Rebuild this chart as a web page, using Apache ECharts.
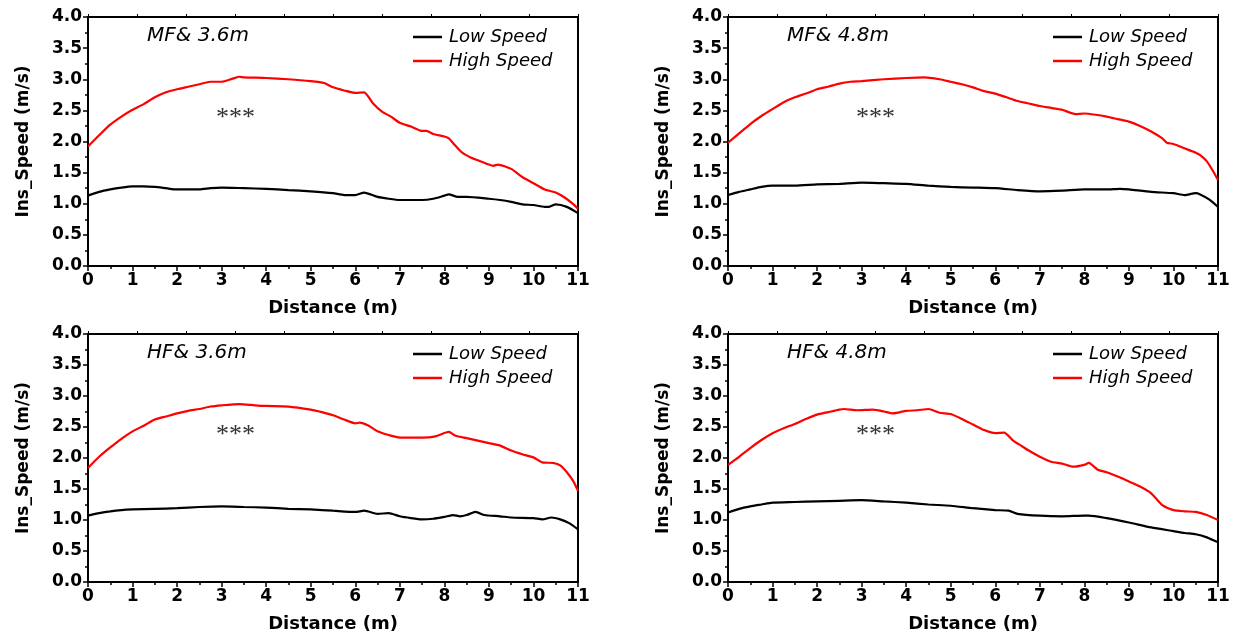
<!DOCTYPE html>
<html>
<head>
<meta charset="utf-8">
<script src="https://cdn.jsdelivr.net/npm/echarts@6/dist/echarts.min.js"></script>
<style>
html,body{margin:0;padding:0;background:#fff;}
#chart{width:1237px;height:639px;}
</style>
</head>
<body>
<div id="chart"></div>
<script>
// ---- data ----
const panelTitles = ['MF& 3.6m', 'MF& 4.8m', 'HF& 3.6m', 'HF& 4.8m'];
const seriesNames = ['Low Speed', 'High Speed'];
const xTicks = [0,1,2,3,4,5,6,7,8,9,10,11];
const yTicks = [0.0,0.5,1.0,1.5,2.0,2.5,3.0,3.5,4.0];

const mf36LowX = [0,0.25,0.5,0.75,1,1.25,1.5,1.75,2,2.25,2.5,2.75,3,3.5,4,4.5,5,5.5,5.75,6,6.2,6.5,6.75,7,7.5,7.75,8,8.1,8.3,8.5,9,9.25,9.5,9.75,10,10.25,10.35,10.5,10.75,11];
const mf36LowY = [1.13,1.19,1.23,1.26,1.28,1.28,1.27,1.25,1.23,1.23,1.23,1.25,1.26,1.25,1.24,1.22,1.20,1.17,1.14,1.14,1.18,1.11,1.08,1.06,1.06,1.08,1.13,1.15,1.11,1.11,1.08,1.06,1.03,0.99,0.98,0.95,0.95,0.99,0.95,0.85];
const mf36HighX = [0,0.25,0.5,0.75,1,1.25,1.5,1.75,2,2.25,2.5,2.75,3,3.25,3.4,3.5,4,4.5,5,5.3,5.5,5.75,6,6.2,6.4,6.6,6.8,7,7.25,7.5,7.6,7.75,8,8.1,8.25,8.4,8.6,8.75,9,9.1,9.2,9.5,9.75,10,10.25,10.5,10.7,10.9,11];
const mf36HighY = [1.92,2.10,2.27,2.40,2.51,2.60,2.71,2.79,2.84,2.88,2.92,2.96,2.96,3.01,3.04,3.03,3.02,3.00,2.97,2.94,2.87,2.82,2.78,2.79,2.61,2.48,2.40,2.30,2.24,2.17,2.17,2.12,2.08,2.05,1.93,1.82,1.74,1.70,1.63,1.61,1.63,1.56,1.43,1.33,1.23,1.18,1.10,0.99,0.92];

const mf48LowX = [0,0.25,0.5,0.75,1,1.5,2,2.5,3,3.5,4,4.5,5,5.5,6,6.5,7,7.5,8,8.5,8.8,9,9.5,10,10.25,10.5,10.6,10.8,11];
const mf48LowY = [1.14,1.19,1.23,1.27,1.29,1.29,1.31,1.32,1.34,1.33,1.32,1.29,1.27,1.26,1.25,1.22,1.20,1.21,1.23,1.23,1.24,1.23,1.19,1.17,1.14,1.17,1.15,1.07,0.95];
const mf48HighX = [0,0.25,0.5,0.75,1,1.25,1.5,1.75,2,2.25,2.5,2.75,3,3.5,4,4.4,4.75,5,5.25,5.5,5.75,6,6.25,6.5,6.75,7,7.25,7.5,7.8,8,8.25,8.5,8.75,9,9.25,9.5,9.75,9.85,10,10.25,10.5,10.6,10.75,10.9,11];
const mf48HighY = [1.98,2.13,2.28,2.41,2.52,2.63,2.71,2.77,2.84,2.88,2.93,2.96,2.97,3.00,3.02,3.03,3.00,2.96,2.92,2.87,2.81,2.77,2.71,2.65,2.61,2.57,2.54,2.51,2.44,2.45,2.43,2.40,2.36,2.32,2.25,2.16,2.05,1.98,1.96,1.89,1.82,1.78,1.68,1.51,1.38];

const hf36LowX = [0,0.25,0.5,0.75,1,1.5,2,2.5,3,3.5,4,4.5,5,5.5,6,6.2,6.5,6.75,7,7.25,7.5,7.75,8,8.2,8.35,8.5,8.7,8.9,9.25,9.5,10,10.2,10.4,10.6,10.8,11];
const hf36LowY = [1.07,1.11,1.14,1.16,1.17,1.18,1.19,1.21,1.22,1.21,1.20,1.18,1.17,1.15,1.13,1.15,1.10,1.11,1.06,1.03,1.01,1.02,1.05,1.08,1.06,1.08,1.13,1.08,1.06,1.04,1.03,1.01,1.04,1.01,0.95,0.85];
const hf36HighX = [0,0.25,0.5,0.75,1,1.25,1.5,1.75,2,2.25,2.5,2.75,3,3.4,3.75,4,4.5,5,5.25,5.5,5.75,6,6.1,6.3,6.5,6.75,7,7.5,7.8,8.1,8.25,8.5,8.75,9,9.25,9.5,9.75,10,10.2,10.45,10.6,10.75,10.9,11];
const hf36HighY = [1.84,2.02,2.17,2.31,2.43,2.52,2.62,2.67,2.72,2.76,2.79,2.83,2.85,2.87,2.85,2.84,2.83,2.78,2.74,2.69,2.62,2.56,2.57,2.52,2.43,2.37,2.33,2.33,2.35,2.42,2.36,2.32,2.28,2.24,2.20,2.12,2.06,2.01,1.93,1.92,1.88,1.77,1.62,1.47];

const hf48LowX = [0,0.25,0.5,0.75,1,1.5,2,2.5,3,3.5,4,4.5,5,5.5,6,6.3,6.5,7,7.5,8,8.1,8.5,9,9.5,10,10.25,10.5,10.75,11];
const hf48LowY = [1.12,1.18,1.22,1.25,1.28,1.29,1.30,1.31,1.32,1.30,1.28,1.25,1.23,1.19,1.16,1.15,1.10,1.07,1.06,1.07,1.07,1.03,0.96,0.88,0.82,0.79,0.77,0.72,0.64];
const hf48HighX = [0,0.25,0.5,0.75,1,1.25,1.5,1.75,2,2.25,2.5,2.6,2.9,3.25,3.5,3.7,4,4.25,4.5,4.75,5,5.25,5.5,5.75,6,6.2,6.4,6.6,6.75,7,7.25,7.5,7.75,8,8.1,8.3,8.5,8.75,9,9.25,9.5,9.75,10,10.25,10.5,10.75,11];
const hf48HighY = [1.89,2.02,2.16,2.29,2.40,2.48,2.55,2.63,2.70,2.74,2.78,2.79,2.77,2.78,2.75,2.72,2.76,2.77,2.79,2.73,2.71,2.63,2.54,2.45,2.40,2.41,2.28,2.19,2.12,2.02,1.94,1.91,1.86,1.89,1.92,1.81,1.77,1.70,1.62,1.54,1.43,1.24,1.16,1.14,1.13,1.08,1.00];

// ---- build chart ----
const panels = [
  {low:[mf36LowX, mf36LowY], high:[mf36HighX, mf36HighY]},
  {low:[mf48LowX, mf48LowY], high:[mf48HighX, mf48HighY]},
  {low:[hf36LowX, hf36LowY], high:[hf36HighX, hf36HighY]},
  {low:[hf48LowX, hf48LowY], high:[hf48HighX, hf48HighY]}
];
const layout = [
  {left:88, top:17, width:490, height:249},
  {left:728, top:17, width:490, height:249},
  {left:88, top:334, width:490, height:248},
  {left:728, top:334, width:490, height:248}
];
const zip = (xs, ys) => xs.map((x, i) => [x, ys[i]]);
const FONT = 'DejaVu Sans';
const lineStyle = {color:'#000', width:2};

const grid = [], xAxis = [], yAxis = [], series = [], legend = [], graphic = [];
layout.forEach((g, i) => {
  grid.push({left:g.left, top:g.top, width:g.width, height:g.height, containLabel:false});
  xAxis.push({
    gridIndex:i, type:'value', min:xTicks[0], max:xTicks[xTicks.length-1], interval:1, position:'bottom',
    axisLine:{show:true, onZero:false, lineStyle:lineStyle},
    axisTick:{show:true, inside:false, length:5, lineStyle:{color:'#000', width:1.5}},
    minorTick:{show:true, splitNumber:2, length:3, lineStyle:{color:'#000', width:1.5}},
    axisLabel:{show:true, color:'#000', fontFamily:FONT, fontWeight:'bold', fontSize:17, margin:6},
    splitLine:{show:false},
    name:'Distance (m)', nameLocation:'middle', nameGap:33,
    nameTextStyle:{color:'#000', fontFamily:FONT, fontWeight:'bold', fontSize:18}
  });
  xAxis.push({
    gridIndex:i, type:'value', min:0, max:11, interval:1.1, position:'top',
    axisLine:{show:true, onZero:false, lineStyle:lineStyle},
    axisTick:{show:true, inside:false, length:3, lineStyle:{color:'#000', width:1}},
    axisLabel:{show:false}, splitLine:{show:false}
  });
  yAxis.push({
    gridIndex:i, type:'value', min:yTicks[0], max:yTicks[yTicks.length-1], interval:0.5, position:'left',
    axisLine:{show:true, onZero:false, lineStyle:lineStyle},
    axisTick:{show:true, inside:false, length:5, lineStyle:{color:'#000', width:1.5}},
    minorTick:{show:true, splitNumber:2, length:3, lineStyle:{color:'#000', width:1.5}},
    axisLabel:{show:true, color:'#000', fontFamily:FONT, fontWeight:'bold', fontSize:17, margin:6,
      formatter:v => v.toFixed(1)},
    splitLine:{show:false},
    name:'Ins_Speed (m/s)', nameLocation:'middle', nameGap:56,
    nameTextStyle:{color:'#000', fontFamily:FONT, fontWeight:'bold', fontSize:17}
  });
  yAxis.push({
    gridIndex:i, type:'value', min:0, max:4, position:'right',
    axisLine:{show:true, onZero:false, lineStyle:lineStyle},
    axisTick:{show:false}, axisLabel:{show:false}, splitLine:{show:false}
  });
  const p = panels[i];
  series.push({
    name:seriesNames[0], type:'line', xAxisIndex:2*i, yAxisIndex:2*i,
    data:zip(p.low[0], p.low[1]), showSymbol:false, smooth:0.2,
    lineStyle:{color:'#000', width:2.2}, itemStyle:{color:'#000'}, z:3
  });
  series.push({
    name:seriesNames[1], type:'line', xAxisIndex:2*i, yAxisIndex:2*i,
    data:zip(p.high[0], p.high[1]), showSymbol:false, smooth:0.2,
    lineStyle:{color:'#ff0000', width:2.2}, itemStyle:{color:'#ff0000'}, z:4
  });
  legend.push({
    data:seriesNames, orient:'vertical', left:g.left + 325, top:g.top + 11, padding:0,
    icon:'rect', itemWidth:29, itemHeight:2.5, itemGap:6,
    textStyle:{color:'#000', fontFamily:FONT, fontStyle:'italic', fontSize:18, padding:[0,0,0,2]},
    selectedMode:false
  });
  graphic.push({
    type:'text', left:g.left + 59, top:g.top + 9,
    style:{text:panelTitles[i], fill:'#000', font:'italic 20px "DejaVu Sans"'}
  });
  graphic.push({
    type:'text', left:g.left + 128, top:g.top + 88,
    style:{text:'***', fill:'#333', font:'26px "Liberation Serif"'}
  });
});

const chart = echarts.init(document.getElementById('chart'));
chart.setOption({
  animation:false,
  backgroundColor:'#fff',
  grid, xAxis, yAxis, series, legend, graphic
});
</script>
</body>
</html>
